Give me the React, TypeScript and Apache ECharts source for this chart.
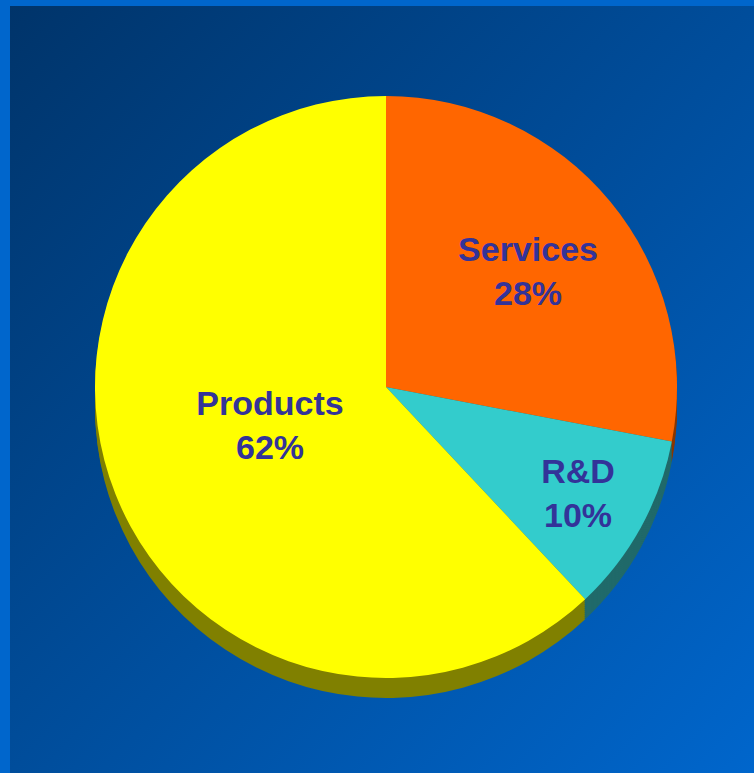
import React, { useEffect, useRef } from "react";
import * as echarts from "echarts";

const categories = ["Services", "R&D", "Products"];
const values = [28, 10, 62];
const topColors = ["#FF6600", "#33CCCC", "#FFFF00"];
const sideColors = ["#8A3800", "#206A6A", "#808000"];
const labelCenters: [number, number][] = [
  [528, 271],
  [578, 493],
  [270, 425],
];

const CX = 386;
const CY = 387;
const R = 291;
const DEPTH = 20;

export default function App() {
  const ref = useRef<HTMLDivElement>(null);
  useEffect(() => {
    if (!ref.current) return;
    const chart = echarts.init(ref.current, null, { renderer: "svg" });
    const makeData = (colors: string[]) =>
      categories.map((name, i) => ({
        name,
        value: values[i],
        itemStyle: { color: colors[i] },
      }));
    const baseSeries = {
      type: "pie" as const,
      radius: R,
      startAngle: 90,
      clockwise: true,
      silent: true,
      avoidLabelOverlap: false,
      label: { show: false },
      labelLine: { show: false },
      emphasis: { disabled: true },
      itemStyle: { borderWidth: 0 },
    };
    const series: any[] = [];
    for (let d = DEPTH; d >= 2; d -= 2) {
      series.push({
        ...baseSeries,
        center: [CX, CY + d],
        z: 2,
        data: makeData(sideColors),
      });
    }
    series.push({
      ...baseSeries,
      center: [CX, CY],
      z: 3,
      data: makeData(topColors),
    });
    const total = values.reduce((a, b) => a + b, 0);
    const labels = categories.map((name, i) => ({
      type: "text",
      x: labelCenters[i][0],
      y: labelCenters[i][1],
      z: 100,
      style: {
        text: `${name}\n${Math.round((values[i] / total) * 100)}%`,
        font: 'bold 34px "Liberation Sans", Arial, sans-serif',
        fill: "#333399",
        align: "center",
        verticalAlign: "middle",
        lineHeight: 44,
      },
    }));
    chart.setOption({
      animation: false,
      backgroundColor: "#0066CC",
      graphic: [
        {
          type: "rect",
          z: -10,
          shape: { x: 10, y: 6, width: 744, height: 767 },
          style: {
            fill: new echarts.graphic.LinearGradient(0, 0, 1, 1, [
              { offset: 0, color: "#00346A" },
              { offset: 1, color: "#0066CC" },
            ]),
          },
        },
        ...labels,
      ],
      series,
    });
    return () => chart.dispose();
  }, []);
  return (
    <div
      ref={ref}
      style={{ position: "fixed", left: 0, top: 0, width: 754, height: 773 }}
    />
  );
}
